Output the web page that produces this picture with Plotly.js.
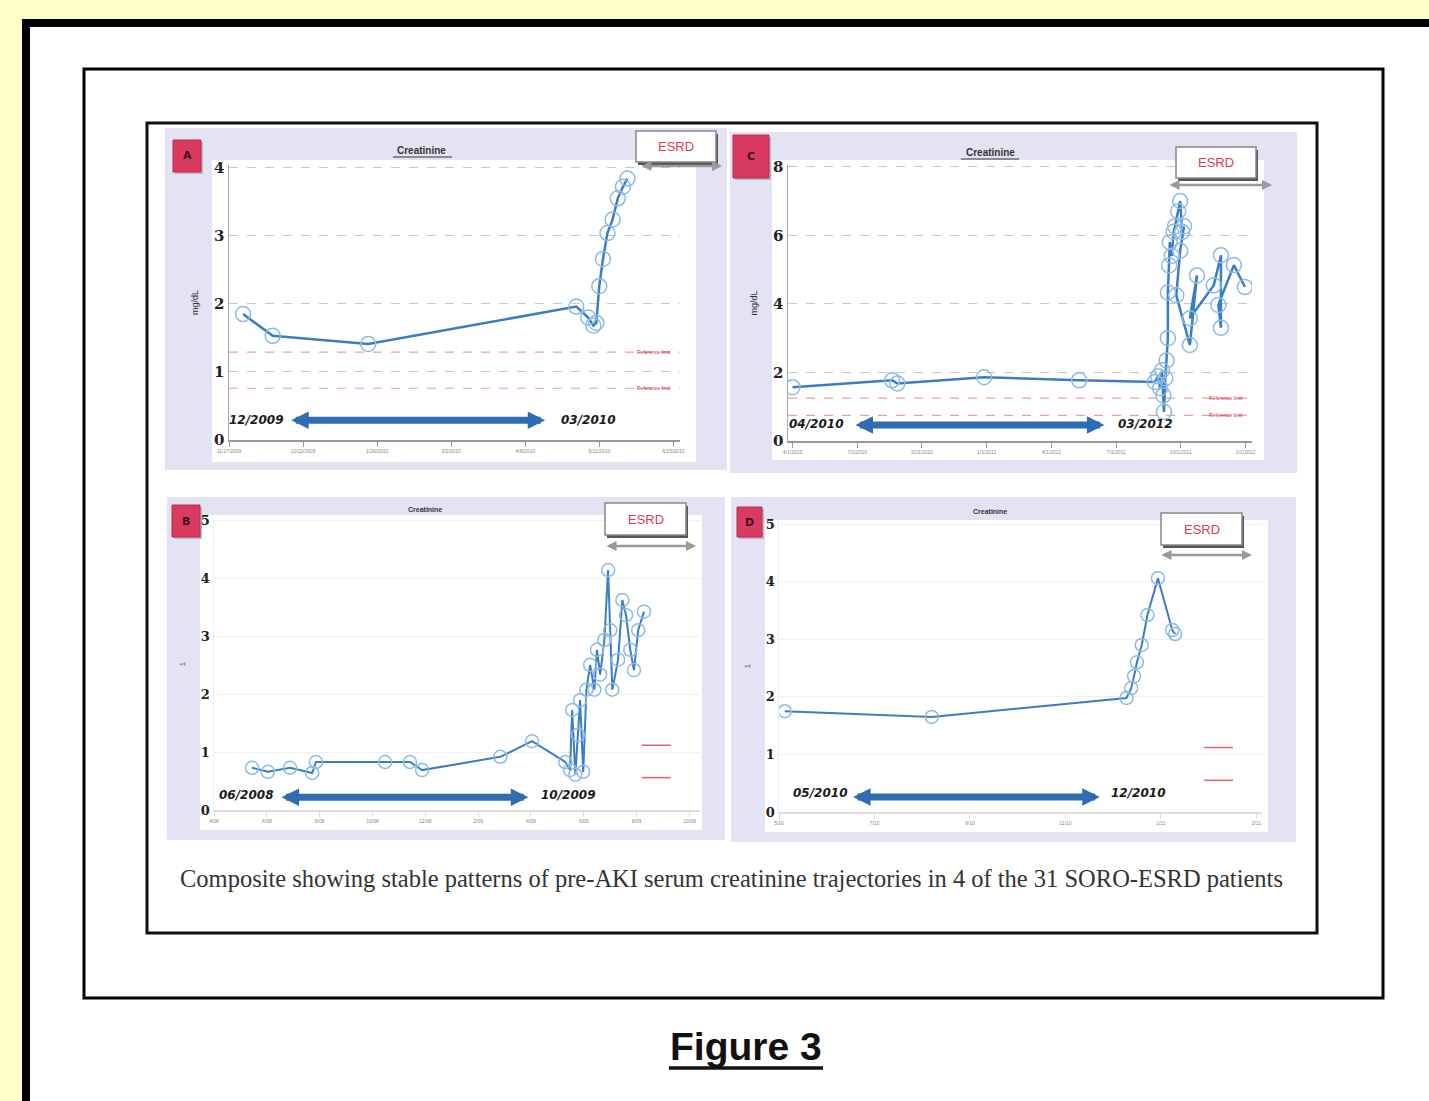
<!DOCTYPE html>
<html>
<head>
<meta charset="utf-8">
<script src="https://cdn.plot.ly/plotly-3.0.1.min.js"></script>
<style>html,body{margin:0;padding:0;background:#FFFDC8;}#chart{width:1429px;height:1101px;}</style>
</head>
<body>
<div id="chart"></div>
<script>
// ---------- DATA ----------
// Panel A : serum creatinine (mg/dL)
const A_x = [0.19, 0.59, 1.88, 4.69, 4.85, 4.92, 4.96, 5.00, 5.05, 5.11, 5.18, 5.25, 5.32, 5.38];
const A_y = [1.85, 1.53, 1.41, 1.96, 1.80, 1.68, 1.72, 2.26, 2.66, 3.04, 3.24, 3.55, 3.72, 3.84];
const A_xticks = ["11/17/2009","12/22/2009","1/26/2010","3/2/2010","4/6/2010","5/11/2010","6/15/2010"];
const A_yticks = [0, 1, 2, 3, 4];
const A_ref = [1.29, 0.76];

// Panel C
const C_x = [0, 1.54, 1.62, 2.96, 4.43, 5.60, 5.65, 5.68, 5.71, 5.73, 5.74, 5.76, 5.78, 5.80, 5.80, 5.82, 5.83, 5.86, 5.89, 5.91, 5.96, 5.99, 6.02, 6.05, 5.99, 5.93, 6.14, 6.25, 6.14, 6.51, 6.62, 6.62, 6.58, 6.82, 6.99];
const C_y = [1.57, 1.77, 1.68, 1.86, 1.77, 1.72, 1.89, 1.54, 2.06, 1.33, 0.85, 1.83, 2.35, 3.00, 4.33, 5.12, 5.80, 5.40, 6.10, 6.26, 6.70, 7.00, 6.10, 6.26, 5.55, 4.25, 2.80, 4.83, 3.58, 4.54, 5.42, 3.30, 3.97, 5.13, 4.49];
const C_xticks = ["4/1/2010","7/1/2010","10/1/2010","1/1/2011","4/1/2011","7/1/2011","10/1/2011","1/1/2012"];
const C_yticks = [0, 2, 4, 6, 8];
const C_ref = [1.25, 0.75];

// Panel B
const B_x = [0.72, 1.02, 1.44, 1.86, 1.93, 3.24, 3.71, 3.94, 5.42, 6.02, 6.65, 6.74, 6.78, 6.84, 6.89, 6.93, 6.99, 7.05, 7.12, 7.20, 7.25, 7.31, 7.39, 7.46, 7.50, 7.54, 7.65, 7.73, 7.80, 7.88, 7.95, 8.03, 8.14];
const B_y = [0.73, 0.66, 0.73, 0.64, 0.83, 0.83, 0.83, 0.69, 0.92, 1.19, 0.83, 0.69, 1.73, 0.61, 1.30, 1.90, 0.66, 2.08, 2.51, 2.08, 2.77, 2.34, 2.94, 4.15, 3.11, 2.08, 2.60, 3.63, 3.37, 2.77, 2.42, 3.11, 3.43];
const B_xticks = ["4/08","6/08","8/08","10/08","12/08","2/09","4/09","6/09","8/09","10/09"];
const B_yticks = [0, 1, 2, 3, 4, 5];
const B_ref = [1.12, 0.56];

// Panel D
const D_x = [0.06, 1.60, 3.64, 3.69, 3.72, 3.75, 3.80, 3.86, 3.97, 4.12, 4.15];
const D_y = [1.75, 1.65, 1.98, 2.15, 2.36, 2.60, 2.90, 3.42, 4.06, 3.16, 3.09];
const D_xticks = ["5/10","7/10","9/10","11/10","1/11","3/11"];
const D_yticks = [0, 1, 2, 3, 4, 5];
const D_ref = [1.12, 0.55];

const panelLetters = ["A", "C", "B", "D"];
const panelTitle = "Creatinine";
const periodStart = ["12/2009", "04/2010", "06/2008", "05/2010"];
const periodEnd = ["03/2010", "03/2012", "10/2009", "12/2010"];
const caption = "Composite showing stable patterns of pre-AKI serum creatinine trajectories in 4 of the 31 SORO-ESRD patients";
const figTitle = "Figure 3";

// ---------- LAYOUT HELPERS ----------
const W = 1429, H = 1101;
const px = x => x / W;
const py = y => 1 - y / H;

const shapes = [];
const annotations = [];
function rect(x0, y0, x1, y1, fill, line, lw, layer) {
  shapes.push({type: 'rect', xref: 'paper', yref: 'paper', layer: layer || 'below',
    x0: px(x0), x1: px(x1), y0: py(y0), y1: py(y1),
    fillcolor: fill, line: {color: line || 'rgba(0,0,0,0)', width: lw || 0}});
}
function pline(x0, y0, x1, y1, color, w) {
  shapes.push({type: 'line', xref: 'paper', yref: 'paper', layer: 'above',
    x0: px(x0), x1: px(x1), y0: py(y0), y1: py(y1), line: {color: color, width: w}});
}
function ptext(x, y, text, font) {
  annotations.push({xref: 'paper', yref: 'paper', x: px(x), y: py(y), xanchor: 'center', yanchor: 'middle',
    text: text, showarrow: false, font: font});
}

// page frames
rect(26, 23, 1470, 1140, '#FFFFFF', '#000000', 8);
rect(84, 69, 1383, 998, '#FFFFFF', '#000000', 3);
rect(147, 123, 1317, 933, '#FFFFFF', '#111111', 3);

// lavender panels
const lav = '#E3E3F3';
rect(165, 128, 727, 470, lav);
rect(730, 132, 1297, 473, lav);
rect(167, 497, 725, 840, lav);
rect(731, 497, 1296, 842, lav);
// white plot areas
rect(212, 160, 696, 462, '#FFFFFF');
rect(772, 160, 1264, 460, '#FFFFFF');
rect(200, 515, 702, 830, '#FFFFFF');
rect(765, 520, 1268, 832, '#FFFFFF');

// red letter boxes
const boxes = [[173, 140, 201, 172], [733, 135, 769, 178], [172, 505, 200, 537], [737, 507, 762, 537]];
boxes.forEach((b, i) => {
  rect(b[0] + 2, b[1] + 2, b[2] + 2, b[3] + 2, '#B8B8C8');
  rect(b[0], b[1], b[2], b[3], '#D93A5F', '#C02850', 1);
  ptext((b[0] + b[2]) / 2, (b[1] + b[3]) / 2, panelLetters[i],
    {family: 'DejaVu Sans', size: 11, color: '#3a1020', weight: 'bold'});
});

// panel titles
const titles = [[422, 150, 10], [990, 152, 10], [425, 509, 7], [990, 511, 7]];
titles.forEach(t => {
  ptext(t[0], t[1], '<b>' + panelTitle + '</b>', {family: 'Liberation Sans', size: t[2], color: '#333'});
});
pline(393, 157, 452, 157, '#333', 1);
pline(961, 159, 1019, 159, '#333', 1);

// ESRD boxes + grey double arrows
const esrd = [[636, 131, 716, 162, 640, 722, 166], [1176, 147, 1256, 178, 1168, 1272, 185],
              [605, 503, 686, 535, 605, 696, 546], [1161, 513, 1242, 545, 1160, 1252, 555]];
esrd.forEach(e => {
  rect(e[0] + 2, e[1] + 3, e[2] + 2, e[3] + 3, '#555555', null, 0, 'above');
  rect(e[0], e[1], e[2], e[3], '#FFFFFF', '#888888', 1.5, 'above');
  ptext((e[0] + e[2]) / 2, (e[1] + e[3]) / 2, 'ESRD', {family: 'Liberation Sans', size: 13, color: '#E23A56'});
  annotations.push({xref: 'paper', yref: 'paper', axref: 'paper', ayref: 'paper',
    x: px(e[5]), y: py(e[6]), ax: px(e[4]), ay: py(e[6]), text: '', showarrow: true,
    arrowside: 'end+start', arrowhead: 2, arrowsize: 0.8, arrowwidth: 2.5, arrowcolor: '#9a9a9a', standoff: 0, startstandoff: 0});
});

// caption and figure title
ptext(731, 878, caption, {family: 'Liberation Serif', size: 24.5, color: '#333'});
ptext(746, 1046, '<b>' + figTitle + '</b>', {family: 'Liberation Sans', size: 39, color: '#111'});
pline(669, 1068, 823, 1068, '#111', 3.5);

// ---------- SUBPLOTS ----------
const panels = [
  {x: A_x, y: A_y, xt: A_xticks, yt: A_yticks, ref: A_ref, xd: [229, 680], xr: [0, 6.09], yd: [440, 165], yr: [0, 4.04], grid: 'dash', tickSize: 15, ytitle: 'mg/dL', arrow: [0.82, 4.27, 0.29], lt: [0.37, 0.3], rt: [4.85, 0.3], big: true},
  {x: C_x, y: C_y, xt: C_xticks, yt: C_yticks, ref: C_ref, xd: [788, 1252], xr: [-0.07, 7.1], yd: [441, 165], yr: [0, 8.05], grid: 'dash', tickSize: 15, ytitle: 'mg/dL', arrow: [0.95, 4.82, 0.47], lt: [0.37, 0.5], rt: [5.45, 0.5], big: true},
  {x: B_x, y: B_y, xt: B_xticks, yt: B_yticks, ref: B_ref, xd: [214, 700], xr: [0, 9.2], yd: [810, 518], yr: [0, 5.05], grid: 'solid', tickSize: 13, ytitle: '1', arrow: [1.25, 5.95, 0.22], lt: [0.6, 0.26], rt: [6.7, 0.26], big: false},
  {x: D_x, y: D_y, xt: D_xticks, yt: D_yticks, ref: D_ref, xd: [779, 1262], xr: [0, 5.06], yd: [812, 520], yr: [0, 5.07], grid: 'solid', tickSize: 13, ytitle: '1', arrow: [0.76, 3.36, 0.26], lt: [0.43, 0.33], rt: [3.76, 0.33], big: false}
];

const traces = [];
const layout = {
  width: W, height: H, margin: {l: 0, r: 0, t: 0, b: 0},
  paper_bgcolor: '#FFFDC8', plot_bgcolor: 'rgba(0,0,0,0)', showlegend: false,
  shapes: shapes, annotations: annotations
};

panels.forEach((p, i) => {
  const n = i === 0 ? '' : String(i + 1);
  const xa = 'x' + n, ya = 'y' + n;
  traces.push({type: 'scatter', mode: 'lines+markers', x: p.x, y: p.y, xaxis: xa, yaxis: ya,
    line: {color: '#3B7CC6', width: p.big ? 2.5 : 2},
    marker: {symbol: 'circle-open', size: p.big ? 15 : 13, color: '#8DBBE4', line: {width: 1.5}}, hoverinfo: 'skip'});
  const xticks = p.xt.map((_, k) => k);
  layout['xaxis' + n] = {domain: [px(p.xd[0]), px(p.xd[1])], range: p.xr, anchor: ya,
    tickvals: xticks, ticktext: p.xt, tickfont: {size: 5, color: '#888', family: 'Liberation Sans'},
    showgrid: false, zeroline: false, showline: true, linecolor: p.big ? '#999' : '#ddd', linewidth: 1.5,
    ticks: 'outside', ticklen: 5, tickcolor: p.big ? '#999' : '#ddd', fixedrange: true};
  layout['yaxis' + n] = {domain: [py(p.yd[0]), py(p.yd[1])], range: p.yr, anchor: xa,
    tickvals: p.yt, ticktext: p.yt.map(String),
    tickfont: {size: p.tickSize, color: '#222', family: 'DejaVu Serif', weight: 'bold'},
    showgrid: true, gridcolor: p.big ? '#c8c8c8' : '#f0f0f0', griddash: p.grid, gridwidth: 1,
    zeroline: false, showline: true, linecolor: p.big ? '#aaa' : '#eee', linewidth: 1.5, ticks: '',
    title: {text: p.ytitle, font: {size: p.big ? 9 : 7, color: '#333', family: 'Liberation Sans'}, standoff: 14},
    fixedrange: true};
  // reference ranges (red dashed / short red marks)
  p.ref.forEach(r => {
    if (p.big) {
      shapes.push({type: 'line', xref: xa, yref: ya, layer: 'below', x0: p.xr[0], x1: p.xr[1], y0: r, y1: r,
        line: {color: '#E9A0A8', width: 1.2, dash: 'dash'}});
      annotations.push({xref: xa, yref: ya, x: p.xr[1] * 0.985, y: r, xanchor: 'right', yanchor: 'middle', text: 'Reference limit',
        showarrow: false, font: {size: 5, color: '#D8203A', family: 'Liberation Sans'}});
    } else {
      shapes.push({type: 'line', xref: xa, yref: ya, layer: 'above', x0: p.xr[1] * 0.88, x1: p.xr[1] * 0.94, y0: r, y1: r,
        line: {color: '#E86070', width: 1.5}});
    }
  });
  // blue double arrow for stable pre-AKI period
  annotations.push({xref: xa, yref: ya, axref: xa, ayref: ya, x: p.arrow[1], y: p.arrow[2], ax: p.arrow[0], ay: p.arrow[2],
    text: '', showarrow: true, arrowside: 'end+start', arrowhead: 2, arrowsize: 0.5, arrowwidth: 7,
    arrowcolor: '#2F6DB3', standoff: 0, startstandoff: 0});
  annotations.push({xref: xa, yref: ya, x: p.lt[0], y: p.lt[1], xanchor: 'center', yanchor: 'middle',
    text: '<i>' + periodStart[i] + '</i>', showarrow: false,
    font: {family: 'DejaVu Sans', size: 12, color: '#1a1a1a', weight: 'bold'}});
  annotations.push({xref: xa, yref: ya, x: p.rt[0], y: p.rt[1], xanchor: 'center', yanchor: 'middle',
    text: '<i>' + periodEnd[i] + '</i>', showarrow: false,
    font: {family: 'DejaVu Sans', size: 12, color: '#1a1a1a', weight: 'bold'}});
});

Plotly.newPlot('chart', traces, layout, {staticPlot: true, displayModeBar: false});
</script>
</body>
</html>
